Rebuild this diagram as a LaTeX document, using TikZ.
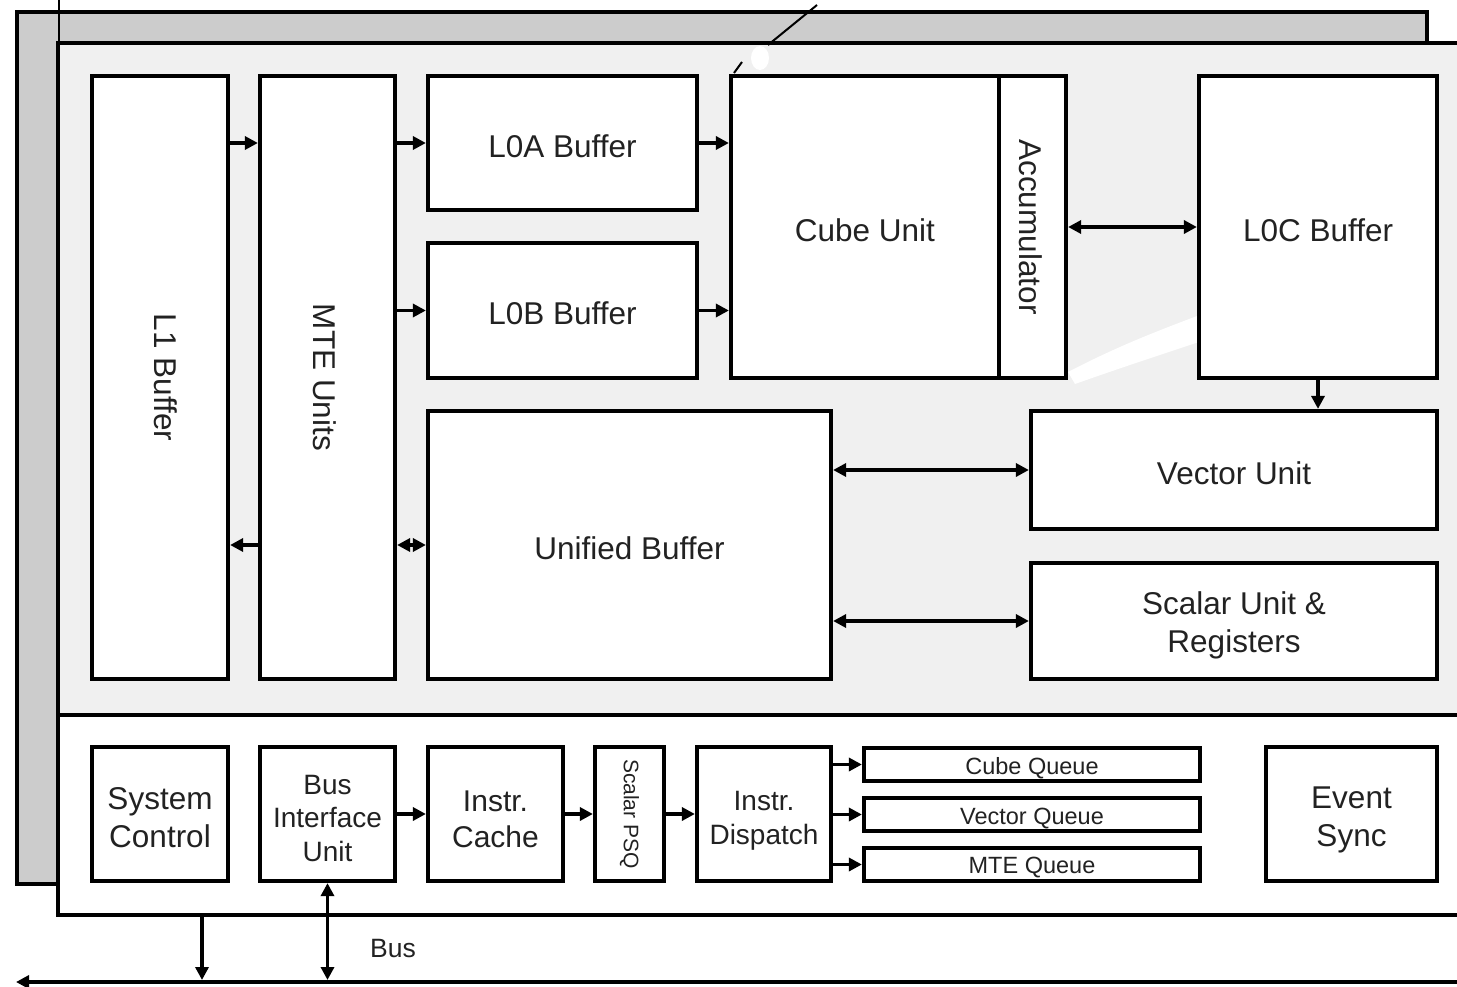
\documentclass[tikz,border=0pt]{standalone}
\usepackage{fontspec}
\setmainfont{Liberation Sans}
\usetikzlibrary{arrows.meta}
\definecolor{backgray}{HTML}{CCCCCC}
\definecolor{panel}{HTML}{F0F0F0}
\definecolor{ink}{HTML}{222222}
\tikzset{
  blk/.style={draw=black, line width=4.2pt, fill=white, inner sep=0pt},
  lbl/.style={text=ink, align=center, inner sep=0pt, font=\fontsize{31.5}{38}\selectfont},
  qlbl/.style={lbl, font=\fontsize{23.5}{28}\selectfont},
  slbl/.style={lbl, font=\fontsize{28}{33.5}\selectfont},
  arr/.style={line width=3.3pt, -{Triangle[length=13pt,width=13pt]}},
  darr/.style={line width=3.3pt, {Triangle[length=13pt,width=13pt]}-{Triangle[length=13pt,width=13pt]}},
  plate/.style={draw=black, line width=4.2pt, inner sep=0pt},
}
\begin{document}
\begin{tikzpicture}[x=1pt,y=-1pt]
\useasboundingbox (0,0) rectangle (1457,987);
\fill[white] (0,0) rectangle (1457,987);

% plates
\node[plate, fill=backgray, minimum width=1410pt, minimum height=872pt] (back) at (722,448) {};
\node[plate, fill=panel, minimum width=1417pt, minimum height=672pt] (top) at (766.5,379) {};
\node[plate, fill=white, minimum width=1417pt, minimum height=200pt] (bot) at (766.5,815) {};
\coordinate (vtop) at (59,0);
\draw[line width=2pt] (vtop) -- (vtop |- top.north);

% scan artefacts
\draw[line width=2pt] (817,5) -- (768,45);
\fill[white] (760,58) ellipse (9pt and 12pt);
\draw[line width=2pt] (742,62) -- (734,73);
\fill[white] (1068,372) .. controls (1120,345) and (1160,330) .. (1205,313)
  -- (1205,340) .. controls (1160,355) and (1120,368) .. (1075,384) -- cycle;

% top section boxes
\node[blk, minimum width=136pt, minimum height=603pt] (l1) at (160,377.5) {};
\node[blk, minimum width=135pt, minimum height=603pt] (mte) at (327.5,377.5) {};
\node[blk, minimum width=269pt, minimum height=134pt] (l0a) at (562.5,143) {};
\node[blk, minimum width=269pt, minimum height=135pt] (l0b) at (562.5,310.5) {};
\node[blk, minimum width=268pt, minimum height=302pt] (cube) at (865,227) {};
\node[blk, minimum width=67pt, minimum height=302pt] (acc) at (1032.5,227) {};
\node[blk, minimum width=238pt, minimum height=302pt] (l0c) at (1318,227) {};
\node[blk, minimum width=403pt, minimum height=268pt] (ub) at (629.5,545) {};
\node[blk, minimum width=406pt, minimum height=118pt] (vec) at (1234,470) {};
\node[blk, minimum width=406pt, minimum height=116pt] (sca) at (1234,621) {};

% top section labels
\node[lbl, rotate=-90] (l1T) at (166,377.5) {L1 Buffer};
\node[lbl, rotate=-90] (mteT) at (325,377.5) {MTE Units};
\node[lbl] (l0aT) at (562.5,146) {L0A Buffer};
\node[lbl] (l0bT) at (562.5,313.5) {L0B Buffer};
\node[lbl] (cubeT) at (865,230) {Cube Unit};
\node[lbl, rotate=-90] (accT) at (1030.5,227) {Accumulator};
\node[lbl] (l0cT) at (1318,230) {L0C Buffer};
\node[lbl] (ubT) at (629.5,548) {Unified Buffer};
\node[lbl] (vecT) at (1234,473) {Vector Unit};
\node[lbl] (scaT) at (1234,625) {Scalar Unit \&\\Registers};

% top arrows
\draw[arr] (l1.east |- l0a.center) -- (mte.west |- l0a.center);
\draw[arr] (mte.west |- ub.center) -- (l1.east |- ub.center);
\draw[arr] (mte.east |- l0a.center) -- (l0a.west);
\draw[arr] (mte.east |- l0b.center) -- (l0b.west);
\draw[darr] (mte.east |- ub.center) -- (ub.west);
\draw[arr] (l0a.east) -- (cube.west |- l0a.center);
\draw[arr] (l0b.east) -- (cube.west |- l0b.center);
\draw[darr] (acc.east) -- (l0c.west);
\draw[arr] (l0c.south) -- (vec.north -| l0c.south);
\draw[darr] (ub.east |- vec.center) -- (vec.west);
\draw[darr] (ub.east |- sca.center) -- (sca.west);

% bottom section boxes
\node[blk, minimum width=136pt, minimum height=134pt] (sys) at (160,814) {};
\node[blk, minimum width=135pt, minimum height=134pt] (biu) at (327.5,814) {};
\node[blk, minimum width=135pt, minimum height=134pt] (ic) at (495.5,814) {};
\node[blk, minimum width=69pt, minimum height=134pt] (psq) at (629.5,814) {};
\node[blk, minimum width=134pt, minimum height=134pt] (disp) at (764,814) {};
\node[blk, minimum width=336pt, minimum height=33pt] (cq) at (1032,764.5) {};
\node[blk, minimum width=336pt, minimum height=33pt] (vq) at (1032,814.5) {};
\node[blk, minimum width=336pt, minimum height=33pt] (mq) at (1032,864.5) {};
\node[blk, minimum width=171pt, minimum height=134pt] (ev) at (1351.5,814) {};

% bottom section labels
\node[lbl] (sysT) at (160,818) {System\\Control};
\node[slbl] (biuT) at (327.5,818) {Bus\\Interface\\Unit};
\node[lbl, font=\fontsize{30}{36}\selectfont] (icT) at (495.5,819) {Instr.\\Cache};
\node[lbl, rotate=-90, font=\fontsize{21}{25}\selectfont] (psqT) at (629.5,814) {Scalar PSQ};
\node[slbl] (dispT) at (764,821) {Instr.\\Dispatch};
\node[qlbl] (cqT) at (1032,768) {Cube Queue};
\node[qlbl] (vqT) at (1032,818.5) {Vector Queue};
\node[qlbl] (mqT) at (1032,868) {MTE Queue};
\node[lbl] (evT) at (1351.5,820) {Event\\Sync};

\draw[arr] (biu.east) -- (ic.west);
\draw[arr] (ic.east) -- (psq.west);
\draw[arr] (psq.east) -- (disp.west);
\draw[arr] (disp.east |- cq.center) -- (cq.west);
\draw[arr] (disp.east |- vq.center) -- (vq.west);
\draw[arr] (disp.east |- mq.center) -- (mq.west);

% bus
\coordinate (busR) at (1462,982);
\coordinate (busL) at (16,982);
\coordinate (busA) at (202,980);
\coordinate (busB) at (327.5,980);
\draw[arr] (busR) -- (busL);
\draw[arr] (bot.south -| busA) -- (busA);
\draw[darr] (biu.south) -- (busB);
\node[lbl, font=\fontsize{26.5}{30}\selectfont] (buslbl) at (393,949) {Bus};
\end{tikzpicture}
\end{document}
